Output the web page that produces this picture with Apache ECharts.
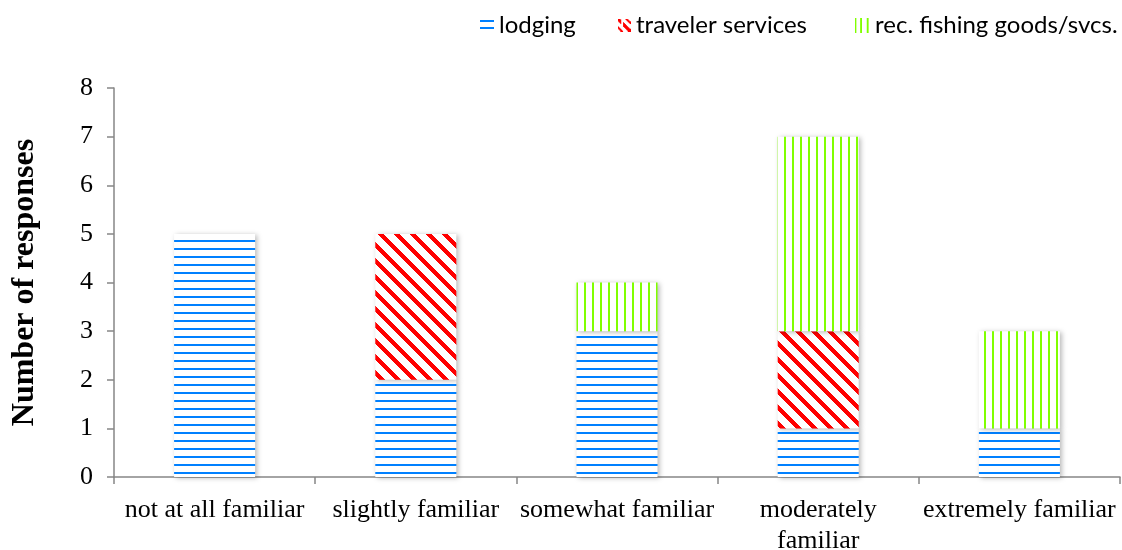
<!DOCTYPE html>
<html>
<head>
<meta charset="utf-8">
<script src="https://cdn.jsdelivr.net/npm/echarts@6/dist/echarts.min.js"></script>
<style>html,body{margin:0;padding:0;background:#fff;}#c{width:1122px;height:550px;}</style>
</head>
<body>
<div id="c"></div>
<script>
const categories = ['not at all familiar', 'slightly familiar', 'somewhat familiar', 'moderately familiar', 'extremely familiar'];
const tickLabels = ['not at all familiar', 'slightly familiar', 'somewhat familiar', 'moderately\nfamiliar', 'extremely familiar'];
const seriesNames = ['lodging', 'traveler services', 'rec. fishing goods/svcs.'];
const lodging = [5, 2, 3, 1, 1];
const travelerServices = [0, 3, 0, 2, 0];
const recFishing = [0, 0, 1, 4, 2];
const yTicks = [0, 1, 2, 3, 4, 5, 6, 7, 8];

const BLUE = '#0080FF', RED = '#FF0000', GREEN = '#80FF00';

function diagFill(g, w, h, period, thick) {
  g.fillStyle = RED;
  for (let y = 0; y < h; y++) {
    for (let x = 0; x < w; x++) {
      const d = ((x - y) % period + period) % period;
      if (d < thick) g.fillRect(x, y, 1, 1);
    }
  }
}
function makeTile(kind) {
  const c = document.createElement('canvas');
  const g = c.getContext('2d');
  if (kind === 'h') {
    c.width = 8; c.height = 8;
    g.fillStyle = '#fff'; g.fillRect(0, 0, 8, 8);
    g.fillStyle = BLUE; g.fillRect(0, 0, 8, 2);
  } else if (kind === 'v') {
    c.width = 8; c.height = 8;
    g.fillStyle = '#fff'; g.fillRect(0, 0, 8, 8);
    g.fillStyle = GREEN; g.fillRect(0, 0, 2, 8);
  } else {
    c.width = 16; c.height = 16;
    g.fillStyle = '#fff'; g.fillRect(0, 0, 16, 16);
    diagFill(g, 16, 16, 16, 6);
  }
  return c;
}
function makeIcon(kind) {
  const c = document.createElement('canvas');
  const g = c.getContext('2d');
  if (kind === 'h') {
    c.width = 14; c.height = 10;
    g.fillStyle = BLUE; g.fillRect(0, 0, 14, 2); g.fillRect(0, 7, 14, 2);
  } else if (kind === 'v') {
    c.width = 16; c.height = 16;
    g.fillStyle = GREEN; g.fillRect(0, 0, 2, 16); g.fillRect(6, 0, 2, 16); g.fillRect(13, 0, 2, 16);
  } else {
    c.width = 14; c.height = 14;
    g.fillStyle = RED;
    for (let y = 0; y < 14; y++) {
      for (let x = 0; x < 14; x++) {
        const d = x - y;
        if ((d >= -2 && d <= 2 && !(x > 3 && x < 6)) || (d >= 8) && (d <= 10) || (d <= -8 && d >= -10)) g.fillRect(x, y, 1, 1);
      }
    }
  }
  return 'image://' + c.toDataURL();
}
const pats = {
  h: { image: makeTile('h'), repeat: 'repeat' },
  d: { image: makeTile('d'), repeat: 'repeat' },
  v: { image: makeTile('v'), repeat: 'repeat' }
};

const chart = echarts.init(document.getElementById('c'), null, { renderer: 'canvas' });
const shadow = { shadowColor: 'rgba(0,0,0,0.28)', shadowBlur: 5, shadowOffsetX: 2, shadowOffsetY: 1 };
const seriesData = [lodging, travelerServices, recFishing];
const patKeys = ['h', 'd', 'v'];
const legendText = { fontFamily: 'Lato, "Open Sans", sans-serif', fontSize: 24, color: '#000' };
const legendLefts = [475, 612, 849];
const legendIcons = [[14, 10], [14, 13], [16, 15]];
const serif = '"Liberation Serif", "Times New Roman", serif';

chart.setOption({
  animation: false,
  legend: seriesNames.map((n, i) => ({
    data: [{ name: n, icon: makeIcon(patKeys[i]) }], left: legendLefts[i], top: 8,
    itemWidth: legendIcons[i][0], itemHeight: legendIcons[i][1], itemGap: 6,
    textStyle: legendText, selectedMode: false
  })),
  grid: { left: 114, right: 2, top: 88, bottom: 73, containLabel: false, outerBoundsMode: 'none' },
  xAxis: {
    type: 'category', data: categories,
    axisLine: { lineStyle: { color: '#868686', width: 1.5 } },
    axisTick: { show: true, length: 7, lineStyle: { color: '#868686', width: 1.5 } },
    axisLabel: {
      formatter: (v, idx) => tickLabels[idx],
      fontFamily: serif, fontSize: 26, color: '#000',
      margin: 18, lineHeight: 31, interval: 0
    }
  },
  yAxis: {
    type: 'value', min: 0, max: 8, interval: 1,
    name: 'Number of responses', nameLocation: 'middle', nameGap: 73,
    nameTextStyle: { fontFamily: serif, fontSize: 32, fontWeight: 'bold', color: '#000' },
    axisLine: { show: true, lineStyle: { color: '#868686', width: 1.5 } },
    axisTick: { show: true, length: 7, lineStyle: { color: '#868686', width: 1.5 } },
    splitLine: { show: false },
    axisLabel: {
      formatter: v => yTicks.includes(v) ? String(v) : '',
      fontFamily: serif, fontSize: 26, color: '#000', margin: 21
    }
  },
  series: seriesNames.map((n, i) => ({
    name: n, type: 'bar', stack: 'total', barWidth: 81,
    data: seriesData[i].map(v => v === 0 ? '-' : v),
    itemStyle: Object.assign({ color: pats[patKeys[i]] }, shadow)
  }))
});
</script>
</body>
</html>
